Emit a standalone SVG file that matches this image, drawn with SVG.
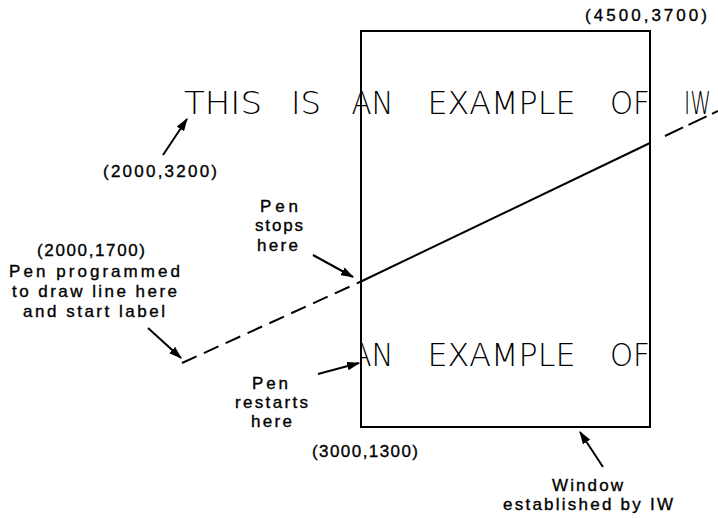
<svg xmlns="http://www.w3.org/2000/svg" width="718" height="518" viewBox="0 0 718 518">
<style>
.lbl{font-family:"Liberation Sans",Arial,sans-serif;font-size:17px;fill:#000;stroke:#000;stroke-width:0.35;}
.big{font-family:"DejaVu Sans","Liberation Sans",sans-serif;font-weight:200;font-size:25px;fill:#000;}
.arr{stroke:#000;stroke-width:2;fill:none;marker-end:url(#ah);}
.pen{stroke:#000;stroke-width:2;fill:none;}
</style>
<defs>
<marker id="ah" viewBox="0 0 12 8" markerUnits="userSpaceOnUse" markerWidth="13" markerHeight="9" refX="11" refY="4" orient="auto">
<path d="M0,0 L12,4 L0,8 z" fill="#000"/>
</marker>
<clipPath id="win"><rect x="361" y="31" width="289" height="396"/></clipPath>
</defs>
<g id="window">
<rect x="361" y="31" width="289" height="396" fill="none" stroke="#000" stroke-width="2"/>
</g>
<g id="label-top">
<text class="big" transform="translate(0,114) scale(1,1.28)" y="0"><tspan x="184" textLength="78" lengthAdjust="spacingAndGlyphs">THIS</tspan><tspan x="291" textLength="30" lengthAdjust="spacingAndGlyphs">IS</tspan><tspan x="351.5" textLength="42" lengthAdjust="spacingAndGlyphs">AN</tspan><tspan x="427.5" textLength="148" lengthAdjust="spacingAndGlyphs">EXAMPLE</tspan><tspan x="610" textLength="40" lengthAdjust="spacingAndGlyphs">OF</tspan><tspan x="684" textLength="27" lengthAdjust="spacingAndGlyphs">IW</tspan></text>
</g>
<g id="label-bottom" clip-path="url(#win)">
<text class="big" transform="translate(0,366) scale(1,1.28)" y="0"><tspan x="351.5" textLength="42" lengthAdjust="spacingAndGlyphs">AN</tspan><tspan x="427.5" textLength="148" lengthAdjust="spacingAndGlyphs">EXAMPLE</tspan><tspan x="610" textLength="40" lengthAdjust="spacingAndGlyphs">OF</tspan></text>
</g>
<g id="connectors">
<path class="pen" d="M182,363 L361,281.5" stroke-dasharray="16 8"/>
<path class="pen" d="M361,281.5 L650,143"/>
<path class="pen" d="M665,136 L718,111" stroke-dasharray="20 6"/>
<path class="arr" d="M163,155 L187,119"/>
<path class="arr" d="M313,255 L353,277"/>
<path class="arr" d="M148,328 L181,358"/>
<path class="arr" d="M318,374 L359,363"/>
<path class="arr" d="M603,467 L580,432"/>
</g>
<g id="t-4500"><text class="lbl" x="585" y="21" textLength="122">(4500,3700)</text></g>
<g id="t-2000-3200"><text class="lbl" x="103" y="177" textLength="114">(2000,3200)</text></g>
<g id="t-start">
<text class="lbl" x="37" y="256" textLength="108">(2000,1700)</text>
<text class="lbl" x="9" y="277" textLength="171">Pen programmed</text>
<text class="lbl" x="12" y="297" textLength="165">to draw line here</text>
<text class="lbl" x="23" y="317" textLength="142">and start label</text>
</g>
<g id="t-stops">
<text class="lbl" x="260" y="212" textLength="38">Pen</text>
<text class="lbl" x="255" y="231" textLength="48">stops</text>
<text class="lbl" x="257" y="251" textLength="41">here</text>
</g>
<g id="t-restarts">
<text class="lbl" x="252" y="389" textLength="36">Pen</text>
<text class="lbl" x="235" y="408" textLength="73">restarts</text>
<text class="lbl" x="251" y="427" textLength="41">here</text>
</g>
<g id="t-3000"><text class="lbl" x="312" y="457" textLength="106">(3000,1300)</text></g>
<g id="t-window">
<text class="lbl" x="552" y="491" textLength="71">Window</text>
<text class="lbl" x="503" y="510" textLength="170">established by IW</text>
</g>
</svg>
